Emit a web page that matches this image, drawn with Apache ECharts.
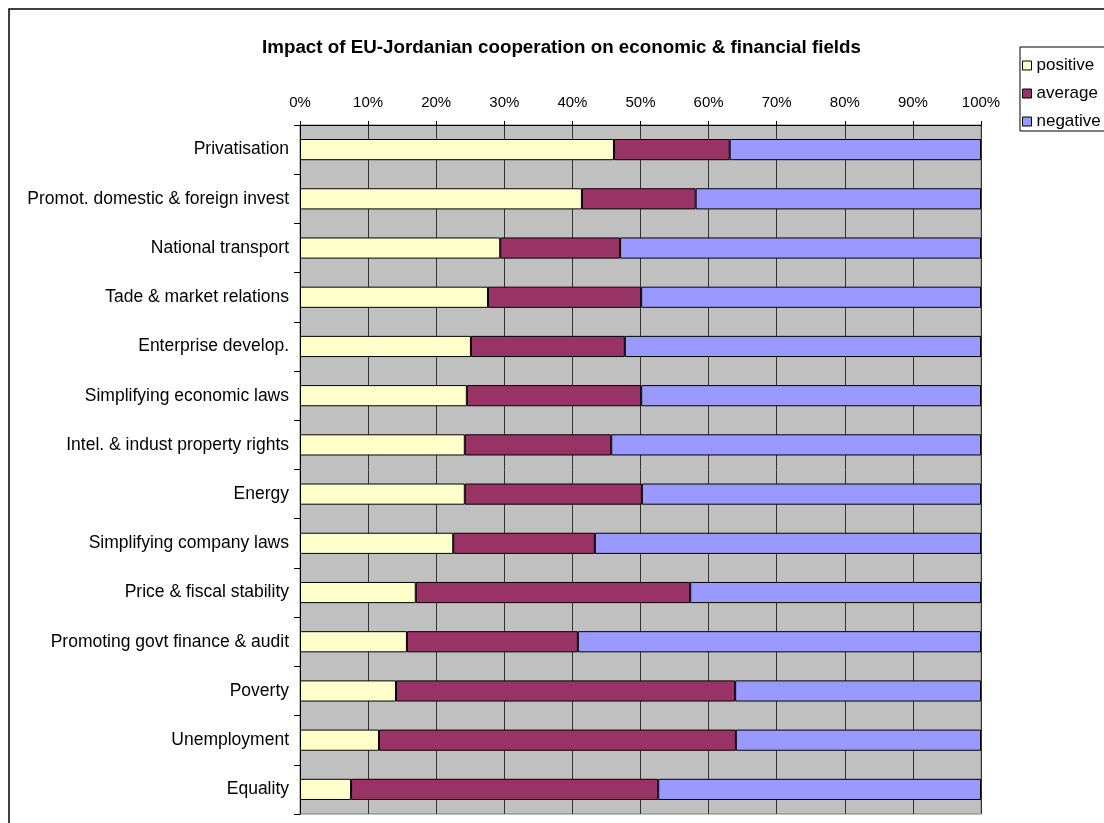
<!DOCTYPE html>
<html>
<head>
<meta charset="utf-8">
<script src="https://cdn.jsdelivr.net/npm/echarts@6/dist/echarts.min.js"></script>
<style>
html,body{margin:0;padding:0;background:#fff;}
#c{width:1104px;height:823px;}
</style>
</head>
<body>
<div id="c"></div>
<script>
const categories = [
  "Privatisation",
  "Promot. domestic & foreign invest",
  "National transport",
  "Tade & market relations",
  "Enterprise develop.",
  "Simplifying economic laws",
  "Intel. & indust property rights",
  "Energy",
  "Simplifying company laws",
  "Price & fiscal stability",
  "Promoting govt finance & audit",
  "Poverty",
  "Unemployment",
  "Equality"
];
const positive = [46.1, 41.4, 29.4, 27.6, 25.1, 24.5, 24.2, 24.2, 22.5, 17.0, 15.7, 14.1, 11.6, 7.5];
const average  = [17.0, 16.7, 17.6, 22.5, 22.6, 25.6, 21.5, 26.0, 20.8, 40.3, 25.1, 49.8, 52.4, 45.1];
const negative = [36.9, 41.9, 53.0, 49.9, 52.3, 49.9, 54.3, 49.8, 56.7, 42.7, 59.2, 36.1, 36.0, 47.4];
const seriesNames = ["positive", "average", "negative"];
const seriesColors = ["#FFFFCC", "#993366", "#9999FF"];

const chart = echarts.init(document.getElementById('c'), null, {renderer: 'canvas'});
const font = "Liberation Sans, Arial, sans-serif";
const dataSets = [positive, average, negative];
chart.setOption({
  animation: false,
  backgroundColor: '#fff',
  textStyle: {fontFamily: font, color: '#000'},
  title: {
    text: "Impact of EU-Jordanian cooperation on economic & financial fields",
    left: 262, top: 38, padding: 0,
    textStyle: {fontFamily: font, fontSize: 18.8, fontWeight: 'bold', color: '#000'}
  },
  legend: {
    orient: 'vertical',
    left: 1020, top: 47,
    backgroundColor: '#fff',
    borderColor: '#000', borderWidth: 1, borderRadius: 0,
    padding: [10, 10, 1, 2],
    itemWidth: 9, itemHeight: 9, itemGap: 11,
    icon: 'rect',
    itemStyle: {borderColor: '#000', borderWidth: 1},
    textStyle: {fontFamily: font, fontSize: 17, color: '#000', padding: [0,0,0,0]},
    data: seriesNames
  },
  graphic: [{
    type: 'rect', silent: true, z: -1,
    shape: {x: 9, y: 9, width: 1300, height: 1000},
    style: {fill: 'none', stroke: '#000', lineWidth: 1.5}
  }],
  grid: {
    left: 300, right: 123, top: 125, bottom: 9,
    show: true, backgroundColor: '#C0C0C0', borderColor: '#808080', borderWidth: 1,
    containLabel: false
  },
  xAxis: {
    type: 'value', position: 'top', min: 0, max: 100, interval: 10,
    axisLine: {show: true, lineStyle: {color: '#000', width: 1}},
    axisTick: {show: true, length: 4, inside: false, lineStyle: {color: '#000'}},
    axisLabel: {formatter: '{value}%', fontSize: 15, color: '#000', fontFamily: font, margin: 15},
    splitLine: {show: true, lineStyle: {color: '#333', width: 1}}
  },
  yAxis: {
    type: 'category', inverse: true, data: categories,
    axisLine: {show: true, lineStyle: {color: '#000', width: 1}},
    axisTick: {show: true, length: 6, inside: false, alignWithLabel: false, lineStyle: {color: '#000'}},
    axisLabel: {fontSize: 17.5, color: '#000', fontFamily: font, margin: 11},
    splitLine: {show: false}
  },
  series: seriesNames.map((n, i) => ({
    name: n, type: 'bar', stack: 'total', barWidth: '43%',
    data: dataSets[i],
    itemStyle: {color: seriesColors[i], borderColor: '#000', borderWidth: 1}
  }))
});
</script>
</body>
</html>
